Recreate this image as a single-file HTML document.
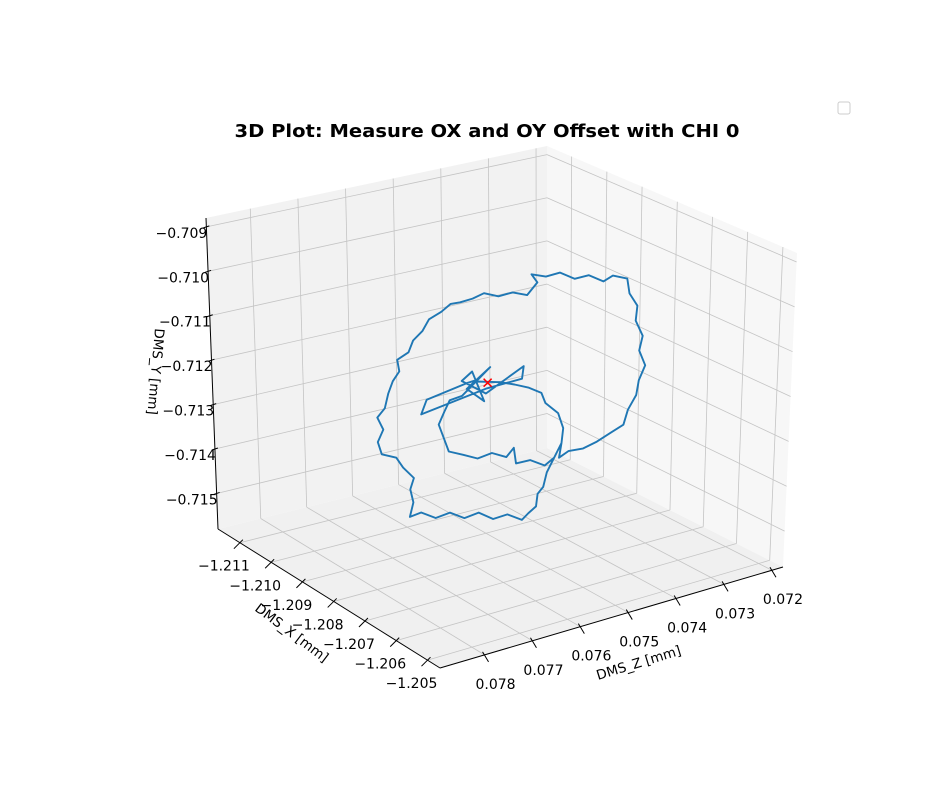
<!DOCTYPE html>
<html><head><meta charset="utf-8"><style>
html,body{margin:0;padding:0;background:#fff;}
svg{display:block;font-family:"DejaVu Sans","Liberation Sans",sans-serif;}
</style></head><body>
<svg id="chart" width="951" height="801" viewBox="0 0 951 801">
<rect width="951" height="801" fill="#fff"/>
<text x="487" y="137" text-anchor="middle" font-size="18" font-weight="bold" textLength="505" lengthAdjust="spacingAndGlyphs">3D Plot: Measure OX and OY Offset with CHI 0</text>
<rect x="838" y="102" width="12" height="12" rx="2" fill="#fff" stroke="#ccc"/>
<g id="panes"></g><g id="grid"></g><g id="axes"></g><g id="series"></g><g id="labels"></g>
<text x="0" y="0" font-size="13.5" transform="translate(155,328) rotate(95)">DMS_Y [mm]</text>
<text x="0" y="0" font-size="13.5" transform="translate(254,610) rotate(37)">DMS_X [mm]</text>
<text x="0" y="0" font-size="13.5" transform="translate(598,680) rotate(-17)">DMS_Z [mm]</text>
</svg>
<script>
const xTicks=[-1.211,-1.210,-1.209,-1.208,-1.207,-1.206,-1.205];
const yTicks=[-0.709,-0.710,-0.711,-0.712,-0.713,-0.714,-0.715];
const zTicks=[0.072,0.073,0.074,0.075,0.076,0.077,0.078];
const xRange=[-1.2117,-1.2046];
const yRange=[-0.7158,-0.7088];
const zRange=[0.07893,0.07177];
const xData=[-1.2063,-1.20654,-1.20666,-1.20684,-1.2069,-1.20714,-1.20735,-1.2078,-1.20825,-1.2087,
-1.20915,-1.2096,-1.21005,-1.2105,-1.21086,-1.21074,-1.21083,-1.21071,-1.21104,-1.21125,
-1.2117,-1.21182,-1.21164,-1.21182,-1.21158,-1.21146,-1.21131,-1.2111,-1.21116,-1.2108,
-1.21065,-1.21035,-1.21014,-1.20975,-1.20945,-1.20915,-1.20876,-1.2084,-1.20795,-1.2075,
-1.20705,-1.20672,-1.2069,-1.20645,-1.206,-1.20555,-1.2051,-1.20465,-1.20435,-1.2039,
-1.20384,-1.2036,-1.20366,-1.20345,-1.20357,-1.20339,-1.2036,-1.20369,-1.20396,-1.20411,
-1.2045,-1.20495,-1.2054,-1.20585,-1.20615,-1.20606,-1.206,-1.20615,-1.20654,-1.20666,
-1.20705,-1.2075,-1.20795,-1.2087,-1.20825,-1.209,-1.20846,-1.20882,-1.20915,-1.2084,
-1.2072,-1.20726,-1.2084,-1.21044,-1.21026,-1.209,-1.20864,-1.20915,-1.20954,-1.20972,
-1.2099,-1.20975,-1.2096,-1.20915,-1.2087,-1.20825,-1.2078,-1.20756,-1.2075,-1.20705,
-1.2066,-1.2063,-1.20606];
const yData=[-0.71288,-0.71331,-0.71369,-0.71392,-0.71423,-0.71448,-0.71472,-0.71478,-0.71507,-0.71511,
-0.71542,-0.71548,-0.71579,-0.71585,-0.7161,-0.71572,-0.71546,-0.71515,-0.71505,-0.71491,
-0.71502,-0.71479,-0.71443,-0.71423,-0.71392,-0.71353,-0.71319,-0.71288,-0.71264,-0.71232,
-0.71199,-0.71165,-0.7113,-0.71097,-0.71067,-0.71051,-0.71027,-0.71,-0.70989,-0.70962,
-0.7095,-0.70908,-0.70897,-0.70884,-0.70857,-0.70853,-0.70827,-0.70823,-0.70798,-0.70787,
-0.70818,-0.70836,-0.70872,-0.70898,-0.70936,-0.70962,-0.71004,-0.71041,-0.71085,-0.71125,
-0.71158,-0.71197,-0.71231,-0.71255,-0.71282,-0.71245,-0.71209,-0.71181,-0.71174,-0.71156,
-0.7116,-0.71171,-0.71184,-0.71213,-0.71162,-0.71242,-0.71248,-0.71195,-0.7123,-0.71228,
-0.71117,-0.71148,-0.71217,-0.71359,-0.71318,-0.71229,-0.71206,-0.71264,-0.7129,-0.71324,
-0.7136,-0.71384,-0.71409,-0.71398,-0.71388,-0.71357,-0.71348,-0.71317,-0.7135,-0.71324,
-0.71318,-0.71288,-0.71245];
const zData=[0.07535,0.07535,0.07535,0.07535,0.07535,0.07535,0.07535,0.07535,0.07535,0.07535,
0.07535,0.07535,0.07535,0.07535,0.07535,0.07535,0.07535,0.07535,0.07535,0.07535,
0.07535,0.07535,0.07535,0.07535,0.07535,0.07535,0.07535,0.07535,0.07535,0.07535,
0.07535,0.07535,0.07535,0.07535,0.07535,0.07535,0.07535,0.07535,0.07535,0.07535,
0.07535,0.07535,0.07535,0.07535,0.07535,0.07535,0.07535,0.07535,0.07535,0.07535,
0.07535,0.07535,0.07535,0.07535,0.07535,0.07535,0.07535,0.07535,0.07535,0.07535,
0.07535,0.07535,0.07535,0.07535,0.07535,0.07535,0.07535,0.07535,0.07535,0.07535,
0.07535,0.07535,0.07535,0.07535,0.07535,0.07535,0.07535,0.07535,0.07535,0.07535,
0.07535,0.07535,0.07535,0.07535,0.07535,0.07535,0.07535,0.07535,0.07535,0.07535,
0.07535,0.07535,0.07535,0.07535,0.07535,0.07535,0.07535,0.07535,0.07535,0.07535,
0.07535,0.07535,0.07535];
const markerX=[-1.20834];
const markerY=[-0.71201];
const markerZ=[0.07535];

const NS="http://www.w3.org/2000/svg";
const C={L:[218,529],F:[440,668],B:[547,448],R:[783,567],Lt:[206,218],Ft:[414,362],Bt:[547,146],Rt:[797,253]};
function bil(p00,p10,p01,p11,a,b){return [p00[0]*(1-a)*(1-b)+p10[0]*a*(1-b)+p01[0]*(1-a)*b+p11[0]*a*b,
 p00[1]*(1-a)*(1-b)+p10[1]*a*(1-b)+p01[1]*(1-a)*b+p11[1]*a*b];}
function P(a,b,h){const lo=bil(C.L,C.F,C.B,C.R,a,b),hi=bil(C.Lt,C.Ft,C.Bt,C.Rt,a,b);
 return [lo[0]+(hi[0]-lo[0])*h, lo[1]+(hi[1]-lo[1])*h];}
function ax(x){return (x-xRange[0])/(xRange[1]-xRange[0]);}
function ay(y){return (y-yRange[0])/(yRange[1]-yRange[0]);}
function az(z){return (z-zRange[0])/(zRange[1]-zRange[0]);}
function proj(x,y,z){return P(ax(x),az(z),ay(y));}
function mk(tag,attrs,parent){const e=document.createElementNS(NS,tag);for(const k in attrs)e.setAttribute(k,attrs[k]);parent.appendChild(e);return e;}
const gP=document.getElementById('panes'),gG=document.getElementById('grid'),gA=document.getElementById('axes'),gS=document.getElementById('series'),gL=document.getElementById('labels');
function poly(pts){return pts.map(p=>p[0].toFixed(1)+','+p[1].toFixed(1)).join(' ');}
let e;
e=mk('polygon',{points:poly([P(0,0,0),P(1,0,0),P(1,1,0),P(0,1,0)]),fill:'#f0f0f0'},gP);


e=mk('polygon',{points:poly([P(0,0,0),P(0,1,0),P(0,1,1),P(0,0,1)]),fill:'#f2f2f2'},gP);


e=mk('polygon',{points:poly([P(0,1,0),P(1,1,0),P(1,1,1),P(0,1,1)]),fill:'#f7f7f7'},gP);


function line(p,q,stroke,w,parent,name){const l=mk('line',{x1:p[0],y1:p[1],x2:q[0],y2:q[1],stroke:stroke,'stroke-width':w},parent);
 
 return l;}
const gc='#c4c4c4';
yTicks.forEach(t=>{const h=ay(t);line(P(0,0,h),P(0,1,h),gc,0.8,gG,'y-gridline');line(P(0,1,h),P(1,1,h),gc,0.8,gG,'y-gridline');});
xTicks.forEach(t=>{const a=ax(t);line(P(a,1,0),P(a,1,1),gc,0.8,gG,'x-gridline');line(P(a,0,0),P(a,1,0),gc,0.8,gG,'x-gridline');});
zTicks.forEach(t=>{const b=az(t);line(P(0,b,0),P(0,b,1),gc,0.8,gG,'z-gridline');line(P(0,b,0),P(1,b,0),gc,0.8,gG,'z-gridline');});
line(P(0,0,0),P(0,0,1),'#000',1,gA,'y-axis-line');
line(P(0,0,0),P(1,0,0),'#000',1,gA,'x-axis-line');
line(P(1,0,0),P(1,1,0),'#000',1,gA,'z-axis-line');
function fmt(v,d){return (v<0?'\u2212':'')+Math.abs(v).toFixed(d);}
xTicks.forEach(t=>{const p=P(ax(t),0,0);line([p[0]+3,p[1]-3],[p[0]-6,p[1]+6],'#000',1,gA,'x-tick');
 const tx=mk('text',{x:p[0]-16,y:p[1]+28,'font-size':14,'text-anchor':'middle'},gL);tx.textContent=fmt(t,3);
 
 });
zTicks.forEach(t=>{const p=P(1,az(t),0);line([p[0]-2,p[1]-3],[p[0]+4,p[1]+7],'#000',1,gA,'z-tick');
 const tx=mk('text',{x:p[0]+11,y:p[1]+34,'font-size':14,'text-anchor':'middle'},gL);tx.textContent=fmt(t,3);
 
 });
yTicks.forEach(t=>{const p=P(0,0,ay(t));line([p[0]-3,p[1]+1],[p[0]+3,p[1]-1],'#000',1,gA,'y-tick');
 const tx=mk('text',{x:p[0]+1,y:p[1]+11,'font-size':14,'text-anchor':'end'},gL);tx.textContent=fmt(t,3);
 
 });
const pts=xData.map((x,i)=>proj(x,yData[i],zData[i]));
const pl=mk('polyline',{points:poly(pts),fill:'none',stroke:'#1f77b4','stroke-width':1.9,'stroke-linejoin':'round'},gS);


const m=proj(markerX[0],markerY[0],markerZ[0]);
const mp=mk('path',{d:`M${m[0]-4},${m[1]-4}L${m[0]+4},${m[1]+4}M${m[0]-4},${m[1]+4}L${m[0]+4},${m[1]-4}`,stroke:'red','stroke-width':1.5},gS);


</script>
</body></html>
